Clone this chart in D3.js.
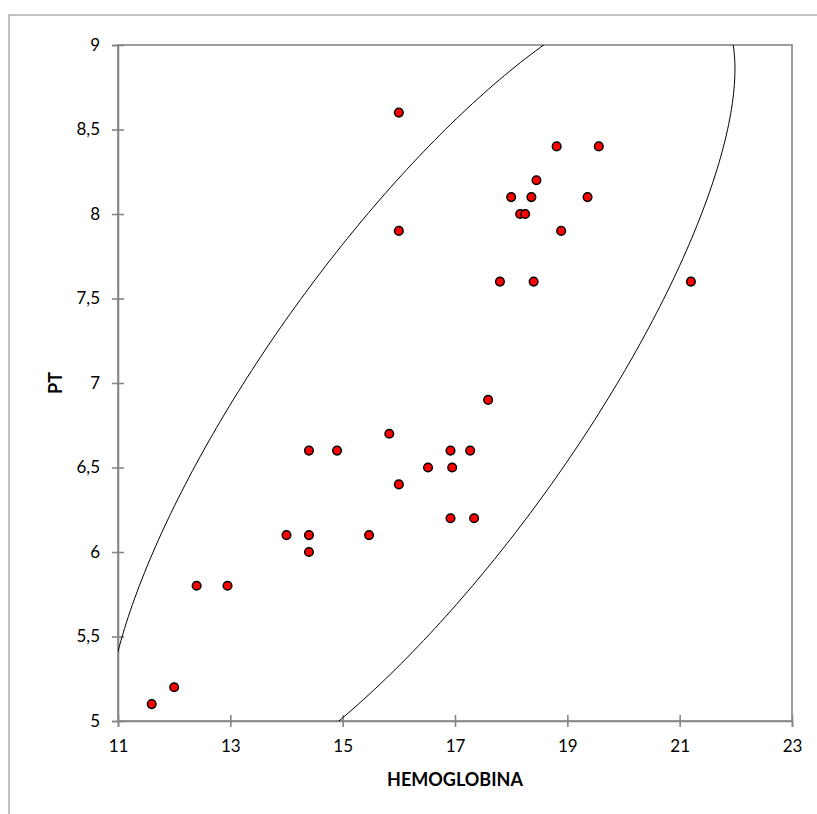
<!DOCTYPE html>
<html><head><meta charset="utf-8">
<script src="https://cdn.jsdelivr.net/npm/d3@7"></script>
<style>
body{margin:0;background:#fff;}
text{font-family: Lato, "Open Sans", sans-serif;}
</style>
</head><body>
<svg id="c" width="817" height="814"></svg>
<script>
// Data
const hemoglobina = [11.6, 12.0, 12.4, 12.95, 14.0, 14.4, 14.4, 14.4, 14.9, 15.47, 15.83, 16.0, 16.0, 16.0, 16.52, 16.92, 16.95, 16.92, 17.27, 17.34, 17.59, 17.8, 18.0, 18.16, 18.25, 18.36, 18.4, 18.45, 18.81, 18.89, 19.36, 19.56, 21.2];
const pt = [5.1, 5.2, 5.8, 5.8, 6.1, 6.1, 6.0, 6.6, 6.6, 6.1, 6.7, 6.4, 7.9, 8.6, 6.5, 6.6, 6.5, 6.2, 6.6, 6.2, 6.9, 7.6, 8.1, 8.0, 8.0, 8.1, 7.6, 8.2, 8.4, 7.9, 8.1, 8.4, 7.6];
const xTicks = [11, 13, 15, 17, 19, 21, 23];
const yTicks = [5, 5.5, 6, 6.5, 7, 7.5, 8, 8.5, 9];
const yTickLabels = ["5", "5,5", "6", "6,5", "7", "7,5", "8", "8,5", "9"];
const xTitle = "HEMOGLOBINA";
const yTitle = "PT";
// confidence ellipse (data units)
const ellipseCenter = [16.39, 6.905];
const ellipseSlope = 1.85;       // dx/dy of horizontal-chord midpoints
const ellipseHalfWidth = 3.33;   // half chord through centre
const ellipseHalfHeight = 2.43;  // vertical semi-extent

const svg = d3.select("#c");
const L = 118, R = 792, T = 45, B = 721;
const x = d3.scaleLinear().domain([11, 23]).range([L, R]);
const y = d3.scaleLinear().domain([5, 9]).range([B, T]);
const FONT = "Lato, 'Open Sans', sans-serif";

// outer chart frame
svg.append("rect").attr("x", 9).attr("y", 15).attr("width", 900).attr("height", 900)
  .attr("fill", "none").attr("stroke", "#a0a0a0").attr("stroke-width", 1.3);

// plot area border
svg.append("rect").attr("x", L).attr("y", T).attr("width", R - L).attr("height", B - T)
  .attr("fill", "none").attr("stroke", "#868686").attr("stroke-width", 1.6);

// clip
svg.append("clipPath").attr("id", "clip").append("rect")
  .attr("x", L).attr("y", T).attr("width", R - L).attr("height", B - T);

// x axis
const gx = svg.append("g").attr("transform", `translate(0,${B})`)
  .call(d3.axisBottom(x).tickValues(xTicks).tickFormat(d3.format("d")).tickSize(6).tickPadding(13));
gx.select(".domain").attr("stroke", "#868686").attr("stroke-width", 1.6);
gx.selectAll(".tick line").attr("stroke", "#868686").attr("stroke-width", 1.6).attr("y1", -6).attr("y2", 6);
gx.selectAll(".tick text").attr("font-size", 17).attr("fill", "#000").attr("font-family", FONT);

// y axis
const gy = svg.append("g").attr("transform", `translate(${L},0)`)
  .call(d3.axisLeft(y).tickValues(yTicks).tickFormat((d, i) => yTickLabels[i]).tickSize(6).tickPadding(12));
gy.select(".domain").attr("stroke", "#868686").attr("stroke-width", 1.6);
gy.selectAll(".tick line").attr("stroke", "#868686").attr("stroke-width", 1.6).attr("x1", -6).attr("x2", 6);
gy.selectAll(".tick text").attr("font-size", 17).attr("fill", "#000").attr("font-family", FONT);

// ellipse
const ts = d3.range(0, 361).map(d => d * Math.PI / 180);
const ellPts = ts.map(t => [
  ellipseCenter[0] + ellipseSlope * ellipseHalfHeight * Math.sin(t) + ellipseHalfWidth * Math.cos(t),
  ellipseCenter[1] + ellipseHalfHeight * Math.sin(t)
]);
svg.append("path").datum(ellPts)
  .attr("clip-path", "url(#clip)")
  .attr("fill", "none").attr("stroke", "#000").attr("stroke-width", 1)
  .attr("d", d3.line().x(d => x(d[0])).y(d => y(d[1])));

// points
const pts = hemoglobina.map((h, i) => [h, pt[i]]);
svg.append("g").selectAll("circle").data(pts).join("circle")
  .attr("cx", d => x(d[0])).attr("cy", d => y(d[1])).attr("r", 4.3)
  .attr("fill", "#ff0000").attr("stroke", "#000").attr("stroke-width", 1.5);

// titles
svg.append("text").attr("x", (L + R) / 2).attr("y", 786).attr("text-anchor", "middle")
  .attr("font-size", 18).attr("font-weight", "bold").attr("font-family", FONT).text(xTitle);
svg.append("text").attr("transform", `translate(62,383) rotate(-90)`).attr("text-anchor", "middle")
  .attr("font-size", 18).attr("font-weight", "bold").attr("font-family", FONT).text(yTitle);
</script>
</body></html>
